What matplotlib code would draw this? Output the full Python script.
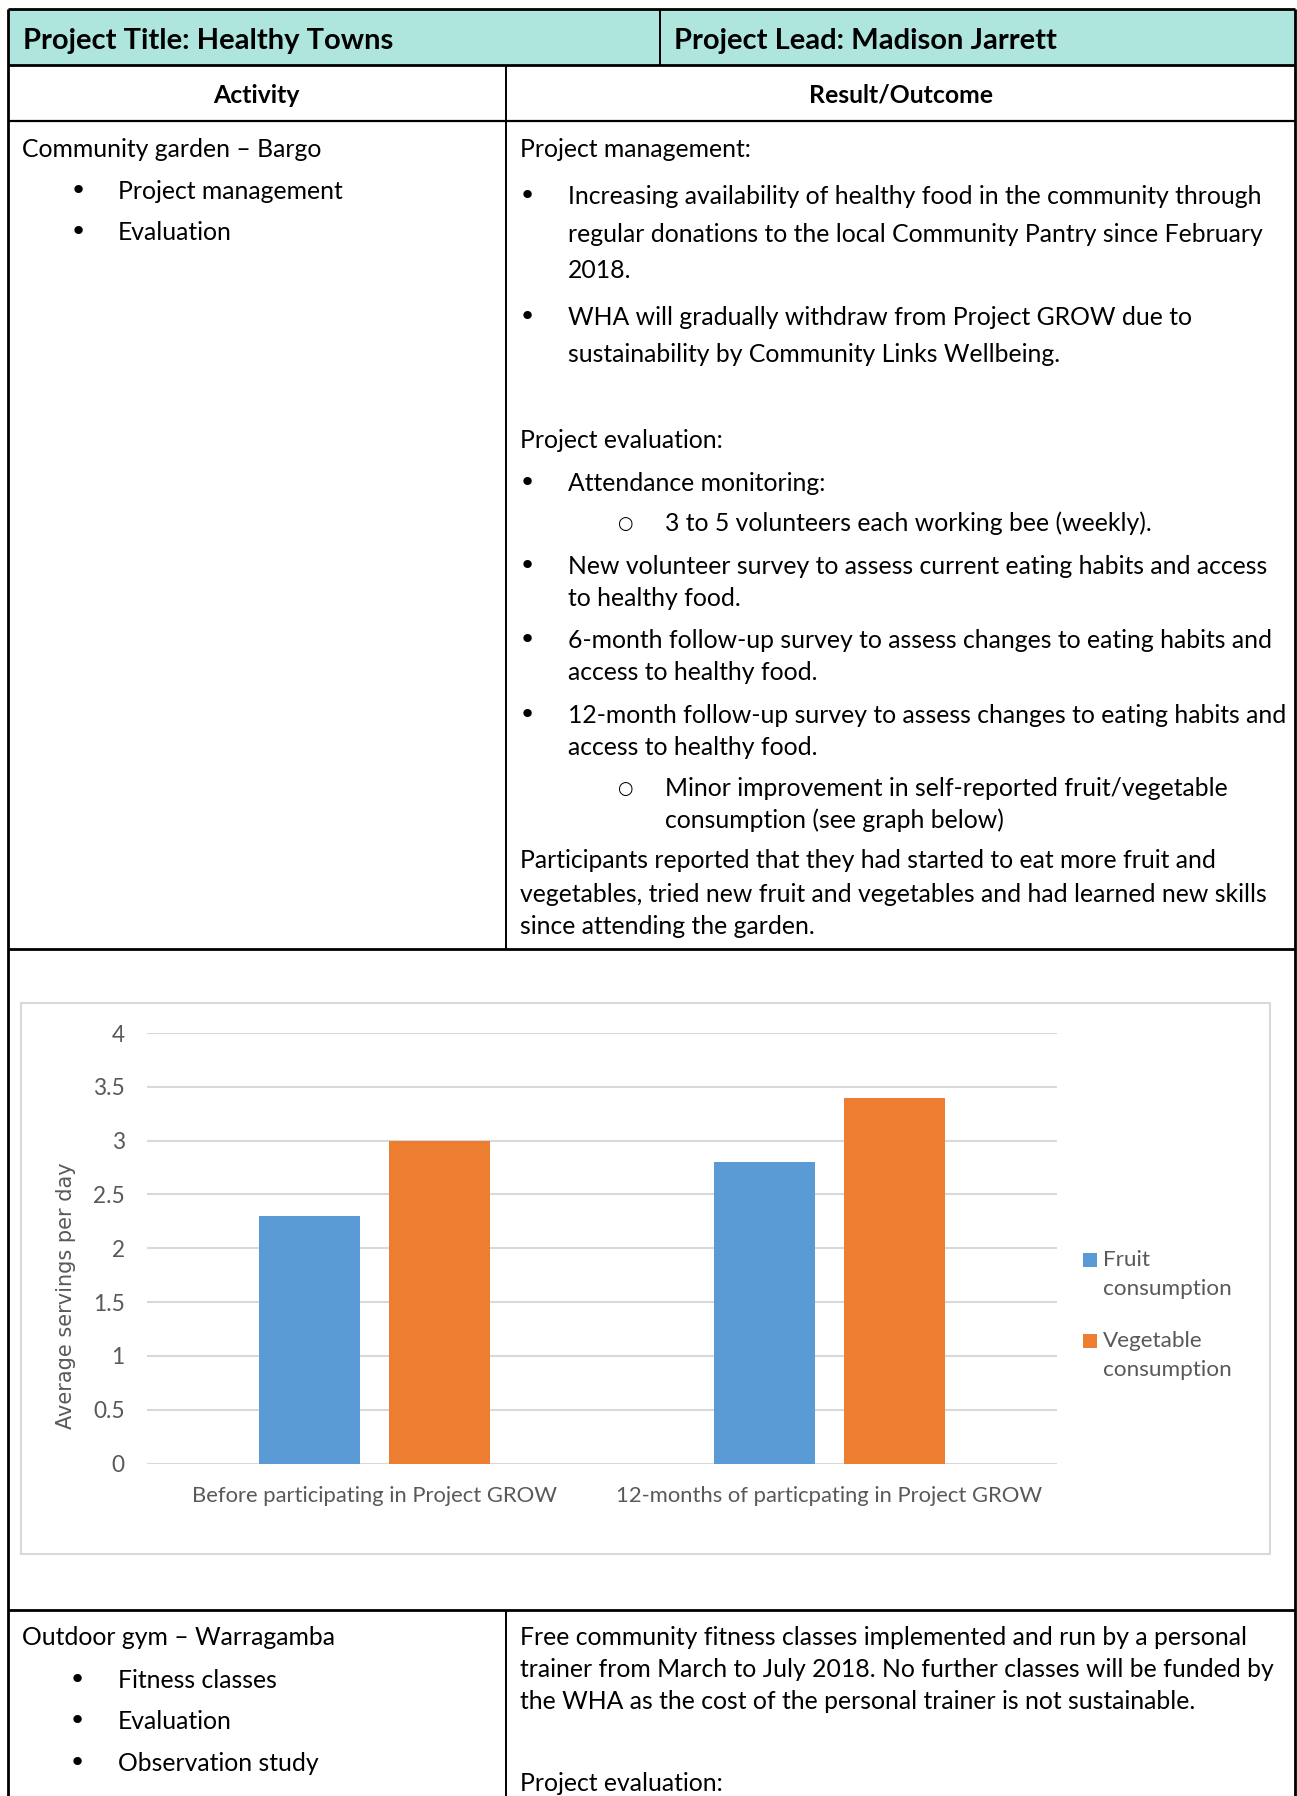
import matplotlib
matplotlib.use("Agg")
import matplotlib.pyplot as plt
from matplotlib.patches import Rectangle

# ---------------- data ----------------
categories = ["Before participating in Project GROW",
              "12-months of particpating in Project GROW"]
series_names = ["Fruit\nconsumption", "Vegetable\nconsumption"]
fruit_values = [2.3, 2.8]
vegetable_values = [3.0, 3.4]
y_ticks = [0, 0.5, 1, 1.5, 2, 2.5, 3, 3.5, 4]
y_tick_labels = ["0", "0.5", "1", "1.5", "2", "2.5", "3", "3.5", "4"]
y_label = "Average servings per day"

W, H = 1297, 1796
FONT = "Lato"
BODY = 17.8
DY = 1.3
fig = plt.figure(figsize=(W / 100, H / 100), dpi=100)
fig.patch.set_facecolor("white")

ov = fig.add_axes([0, 0, 1, 1])
ov.set_xlim(0, W)
ov.set_ylim(H, 0)
ov.axis("off")

def hline(y, x0, x1, lw=1.6):
    ov.plot([x0, x1], [y, y], color="black", lw=lw, solid_capstyle="butt")

def vline(x, y0, y1, lw=1.6):
    ov.plot([x, x], [y0, y1], color="black", lw=lw, solid_capstyle="butt")

L, R, T = 8, 1295, 9
# header fill
ov.add_patch(Rectangle((L, T), R - L, 65 - T, facecolor="#AEE6DE", edgecolor="none"))
hline(T, L, R, 2)
hline(65, L, R, 2)
hline(121, L, R, 1.6)
hline(949, L, R, 2)
hline(1610, L, R, 2)
vline(L, T, H, 2)
vline(R, T, H, 2)
vline(660, T, 65, 1.4)
vline(506, 65, 949, 1.4)
vline(506, 1610, H, 1.4)

def txt(x, y, s, **kw):
    kw.setdefault("fontsize", BODY)
    kw.setdefault("family", FONT)
    kw.setdefault("va", "center")
    kw.setdefault("ha", "left")
    kw.setdefault("color", "black")
    ov.text(x, y + DY, s, **kw)

# header
txt(23, 39.5, "Project Title: Healthy Towns", fontsize=21, weight="bold")
txt(674, 39.5, "Project Lead: Madison Jarrett", fontsize=21, weight="bold")
txt(256, 94, "Activity", ha="center", weight="bold", fontsize=17.8)
txt(901, 94, "Result/Outcome", ha="center", weight="bold", fontsize=17.8)

def bullet(x, y):
    txt(x, y, "\u2022", fontsize=BODY + 3, family=["DejaVu Sans"])

def circ(x, y):
    txt(x, y + 1, "\u25CB", fontsize=BODY - 5, family=["DejaVu Sans"])

# row 3 left
txt(22, 148, "Community garden \u2013 Bargo")
bullet(70, 190); txt(118, 190, "Project management")
bullet(70, 231); txt(118, 231, "Evaluation")

# row 3 right
lines = [
    (520, 148, "Project management:"),
    (568, 195, "Increasing availability of healthy food in the community through"),
    (568, 233, "regular donations to the local Community Pantry since February"),
    (568, 269, "2018."),
    (568, 316, "WHA will gradually withdraw from Project GROW due to"),
    (568, 353, "sustainability by Community Links Wellbeing."),
    (520, 439, "Project evaluation:"),
    (568, 482, "Attendance monitoring:"),
    (665, 522, "3 to 5 volunteers each working bee (weekly)."),
    (568, 565, "New volunteer survey to assess current eating habits and access"),
    (568, 597, "to healthy food."),
    (568, 639, "6-month follow-up survey to assess changes to eating habits and"),
    (568, 671, "access to healthy food."),
    (568, 714, "12-month follow-up survey to assess changes to eating habits and"),
    (568, 746, "access to healthy food."),
    (665, 787, "Minor improvement in self-reported fruit/vegetable"),
    (665, 819, "consumption (see graph below)"),
    (520, 859, "Participants reported that they had started to eat more fruit and"),
    (520, 893, "vegetables, tried new fruit and vegetables and had learned new skills"),
    (520, 925, "since attending the garden."),
]
for x, y, s in lines:
    txt(x, y, s)
for y in [195, 316, 482, 565, 639, 714]:
    bullet(519, y)
for y in [522, 787]:
    circ(617, y)

# bottom row
txt(22, 1636, "Outdoor gym \u2013 Warragamba")
for y, s in [(1679, "Fitness classes"), (1720, "Evaluation"), (1762, "Observation study")]:
    bullet(69, y); txt(118, y, s)
for y, s in [(1636, "Free community fitness classes implemented and run by a personal"),
             (1668, "trainer from March to July 2018. No further classes will be funded by"),
             (1700, "the WHA as the cost of the personal trainer is not sustainable."),
             (1782, "Project evaluation:")]:
    txt(520, y, s)

# chart frame
ov.add_patch(Rectangle((21, 1003), 1270 - 21, 1554 - 1003, facecolor="white",
                       edgecolor="#D9D9D9", lw=1.5))

# ---------------- chart ----------------
px0, px1 = 147, 1057
py_top, py_bot = 1033, 1463.5
ax = fig.add_axes([px0 / W, 1 - py_bot / H, (px1 - px0) / W, (py_bot - py_top) / H])
ax.set_facecolor("none")
xs = list(range(len(categories)))
bw = 0.222
off = 0.142
ax.bar([x - off for x in xs], fruit_values, width=bw, color="#5B9BD5", zorder=3)
ax.bar([x + off for x in xs], vegetable_values, width=bw, color="#ED7D31", zorder=3)
ax.set_xlim(-0.5, len(categories) - 0.5)
ax.set_ylim(0, 4)
ax.set_yticks(y_ticks)
ax.set_yticklabels(y_tick_labels, family=FONT, fontsize=16.3, color="#595959")
ax.set_xticks(xs)
ax.set_xticklabels(categories, family=FONT, fontsize=15.8, color="#595959")
ax.tick_params(axis="y", length=0, pad=16)
ax.tick_params(axis="x", length=0, pad=16)
ax.grid(axis="y", color="#D9D9D9", lw=1.5, zorder=0)
for sp in ax.spines.values():
    sp.set_visible(False)
ax.set_ylabel(y_label, family="DejaVu Sans", fontsize=15, color="#595959")
ax.yaxis.set_label_coords(-0.078, 0.389)

# legend (manual)
colors = ["#5B9BD5", "#ED7D31"]
for i, (name, c) in enumerate(zip(series_names, colors)):
    y0 = 1260 + i * 81
    ov.add_patch(Rectangle((1083, y0 - 7), 14, 14, facecolor=c, edgecolor="none"))
    first, second = name.split("\n")
    txt(1103, y0 - DY, first, color="#595959", fontsize=16.2)
    txt(1103, y0 + 29 - DY, second, color="#595959", fontsize=16.2)

fig.savefig("out.png", dpi=100)
